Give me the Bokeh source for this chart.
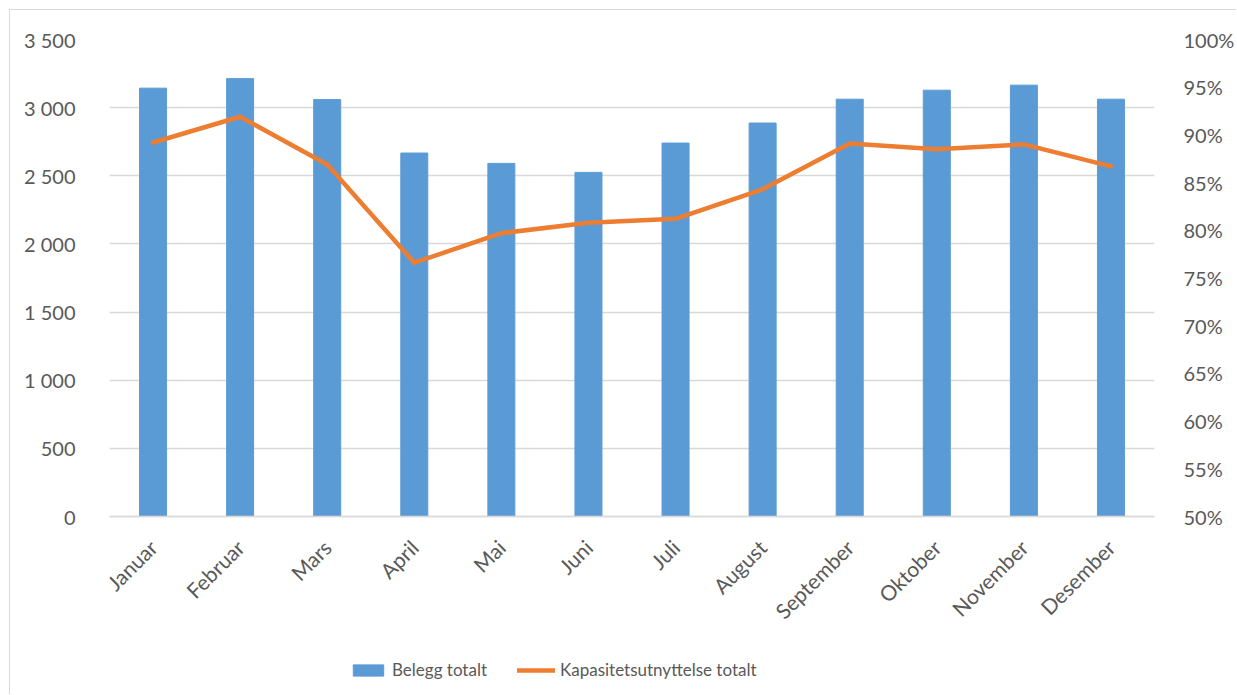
import math
from bokeh.plotting import figure
from bokeh.models import (FactorRange, Range1d, LinearAxis, FixedTicker,
                          NumeralTickFormatter, Legend, LegendItem)
from bokeh.embed import file_html
from bokeh.resources import INLINE

months = ["Januar", "Februar", "Mars", "April", "Mai", "Juni", "Juli",
          "August", "September", "Oktober", "November", "Desember"]
belegg = [3143, 3213, 3059, 2667, 2591, 2525, 2740, 2887, 3062, 3128, 3165, 3062]
kapasitet = [0.892, 0.919, 0.869, 0.766, 0.797, 0.808, 0.812, 0.843, 0.891, 0.885, 0.890, 0.867]
left_ticks = [0, 500, 1000, 1500, 2000, 2500, 3000, 3500]
left_labels = ["0", "500", "1 000", "1 500", "2 000", "2 500", "3 000", "3 500"]
right_ticks = [0.5, 0.55, 0.6, 0.65, 0.7, 0.75, 0.8, 0.85, 0.9, 0.95, 1.0]

FONT = "Lato"
TXT = "#595959"
GRID = "#D9D9D9"

# layout (screen px)
FIG_X, FIG_Y = 10, 10
FRAME_L, FRAME_R, FRAME_T, AXIS_Y, FRAME_B = 109, 1155, 39, 516, 690
W, H = 1237 - FIG_X, 695 - FIG_Y

# extend the frame below zero so the legend sits inside the frame
ppu_left = (AXIS_Y - FRAME_T) / 3500.0
left_start = -(FRAME_B - AXIS_Y) / ppu_left
ppu_right = (AXIS_Y - FRAME_T) / 0.5
right_start = 0.5 - (FRAME_B - AXIS_Y) / ppu_right

p = figure(x_range=FactorRange(*months), y_range=Range1d(left_start, 3500),
           width=W, height=H, output_backend="svg", toolbar_location=None,
           min_border_left=FRAME_L - FIG_X, min_border_right=1237 - FRAME_R,
           min_border_top=FRAME_T - FIG_Y, min_border_bottom=695 - FRAME_B)
p.styles = {"margin-left": "9px", "margin-top": "9px",
            "border-left": "1px solid #D9D9D9", "border-top": "1px solid #D9D9D9"}
p.outline_line_color = None
p.extra_y_ranges = {"pct": Range1d(right_start, 1.0)}

bars = p.vbar(x=months, top=belegg, width=0.31, color="#5B9BD5")
line = p.line(x=months, y=kapasitet, y_range_name="pct", line_color="#ED7D31",
              line_width=4.5, line_join="round", line_cap="round")

# left axis
ya = p.yaxis[0]
ya.ticker = FixedTicker(ticks=left_ticks)
ya.major_label_overrides = {t: l for t, l in zip(left_ticks, left_labels)}
ya.axis_line_color = None
ya.major_tick_line_color = None
ya.minor_tick_line_color = None
ya.major_label_text_font = FONT
ya.major_label_text_font_size = "20px"
ya.major_label_text_color = TXT
ya.major_label_standoff = 28

# right axis
ra = LinearAxis(y_range_name="pct", ticker=FixedTicker(ticks=right_ticks),
                formatter=NumeralTickFormatter(format="0%"))
ra.axis_line_color = None
ra.major_tick_line_color = None
ra.minor_tick_line_color = None
ra.major_label_text_font = FONT
ra.major_label_text_font_size = "20px"
ra.major_label_text_color = TXT
ra.major_label_standoff = 23
p.add_layout(ra, "right")

# x axis, pinned at y = 0
xa = p.xaxis[0]
xa.fixed_location = 0
xa.axis_line_color = GRID
xa.axis_line_width = 1.5
xa.major_tick_line_color = None
xa.minor_tick_line_color = None
xa.major_label_orientation = math.pi / 4
xa.major_label_text_font = FONT
xa.major_label_text_font_size = "21px"
xa.major_label_text_color = TXT
xa.major_label_standoff = 21

p.xgrid.grid_line_color = None
p.ygrid.grid_line_color = GRID
p.ygrid.grid_line_width = 1.5
p.ygrid.ticker = FixedTicker(ticks=left_ticks)

legend = Legend(items=[LegendItem(label="Belegg totalt", renderers=[bars]),
                       LegendItem(label="Kapasitetsutnyttelse totalt", renderers=[line])],
                orientation="horizontal", location=(349 - FRAME_L, FRAME_B - 680),
                glyph_width=38, glyph_height=14, label_standoff=5, spacing=30,
                padding=0, margin=0, border_line_color=None,
                background_fill_alpha=0,
                label_text_font=FONT, label_text_font_size="17px",
                label_text_color=TXT)
p.add_layout(legend, "center")

open("out.html", "w").write(file_html(p, INLINE))
